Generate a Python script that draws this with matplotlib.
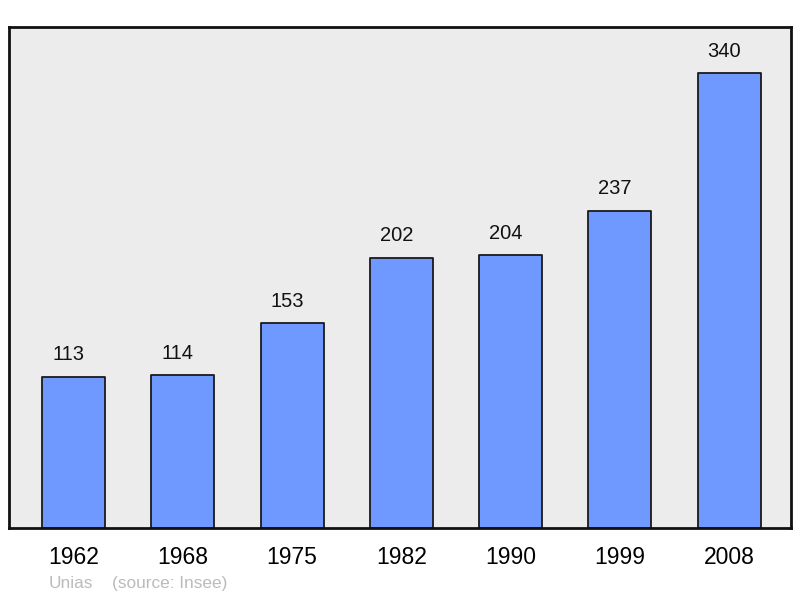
import matplotlib
matplotlib.use('Agg')
import matplotlib.pyplot as plt
import numpy as np

plt.rcParams['font.family'] = ['Liberation Sans', 'DejaVu Sans']

years = ['1962', '1968', '1975', '1982', '1990', '1999', '2008']
population = [113, 114, 153, 202, 204, 237, 340]

bar_color = '#7099ff'
bg_color = '#ececec'

fig = plt.figure(figsize=(8, 5.98), dpi=100)
ax = fig.add_axes([0.01125, 0.1171, 0.9775, 0.8378])
ax.set_facecolor(bg_color)

x = np.arange(len(years))
bars = ax.bar(x, population, width=0.576, color=bar_color,
              edgecolor='#1a1a1a', linewidth=1.3, zorder=2)
for b in bars:
    b.set_joinstyle('round')

# value labels sit a little left of the bar centre, like the original
for xi, v in zip(x, population):
    ax.annotate(str(v), (xi, v), xytext=(-3.6, 15.8), textcoords='offset points',
                ha='center', va='center', fontsize=14.5, color='#111111')

ax.set_xlim(-0.59, 6.565)
ax.set_ylim(0, 374.4)
ax.set_xticks(x)
ax.set_xticklabels(years, fontsize=16.5)
ax.tick_params(axis='x', length=0, pad=13)
ax.set_yticks([])
for s in ax.spines.values():
    s.set_linewidth(2)
    s.set_color('#111111')

fig.text(0.061, 0.016, 'Unias', fontsize=12.4, color='#bbbbbb')
fig.text(0.14, 0.016, '(source: Insee)', fontsize=12.4, color='#bbbbbb')

fig.savefig('out.png', dpi=100)
